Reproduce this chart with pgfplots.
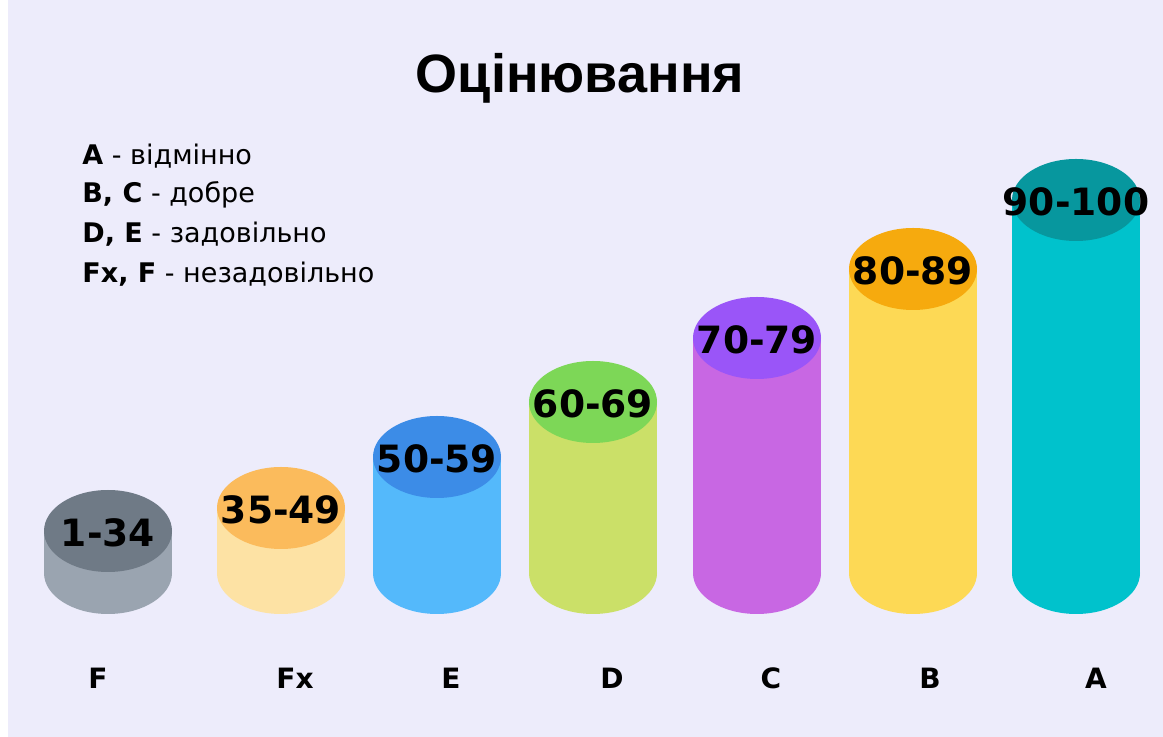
\documentclass[border=0pt]{standalone}
\usepackage{pgfplots}
\pgfplotsset{compat=1.18}
\usepackage{pgfplotstable}
\usepackage{fontspec}
\setmainfont{DejaVu Sans}
\newfontfamily\titlefont{Liberation Sans}

\definecolor{bgc}{HTML}{EDECFB}
\definecolor{Fb}{HTML}{9AA4B0}\definecolor{Ft}{HTML}{6F7A86}
\definecolor{Fxb}{HTML}{FDE2A4}\definecolor{Fxt}{HTML}{FBBB5C}
\definecolor{Eb}{HTML}{54B9FB}\definecolor{Et}{HTML}{3C8CE7}
\definecolor{Db}{HTML}{CBE068}\definecolor{Dt}{HTML}{7DD757}
\definecolor{Cb}{HTML}{C867E3}\definecolor{Ct}{HTML}{9A55F8}
\definecolor{Bb}{HTML}{FDD955}\definecolor{Bt}{HTML}{F6AA0E}
\definecolor{Ab}{HTML}{00C2CC}\definecolor{At}{HTML}{07979E}

\pgfdeclareplotmark{ellip}{%
  \pgfpathellipse{\pgfpointorigin}{\pgfqpoint{32bp}{0bp}}{\pgfqpoint{0bp}{20.5bp}}%
  \pgfusepath{fill}}

% x = centre of cylinder, y = height of top ellipse above the base
\pgfplotstableread{
x y lab
98 -105 F
295 -105 Fx
451 -105 E
612 -105 D
771 -105 C
930 -105 B
1096 -105 A
}\cats

\newcommand\cyl[5]{%
  \addplot[only marks, mark=ellip, mark options={fill=#3, draw=none}] coordinates {(#1,0)};
  \addplot[ybar, bar width=64bp, bar shift=0pt, fill=#3, draw=none] coordinates {(#1,#2)};
  \addplot[only marks, mark=ellip, mark options={fill=#4, draw=none},
    nodes near coords={#5},
    every node near coord/.style={anchor=center, yshift=-1bp, text=black,
      font=\bfseries\fontsize{18.8bp}{22bp}\selectfont}] coordinates {(#1,#2)};
}

\begin{document}
\begin{tikzpicture}
\begin{axis}[
  scale only axis, width=581.5bp, height=368.5bp,
  xmin=0, xmax=1163, ymin=-164, ymax=573,
  hide axis, clip=false,
]
\path (axis cs:0,-164) rectangle (axis cs:1163,573);
\fill[bgc] (axis cs:8,-164) rectangle (axis cs:1163,573);

\cyl{108}{42}{Fb}{Ft}{1-34}
\cyl{281}{65}{Fxb}{Fxt}{35-49}
\cyl{437}{116}{Eb}{Et}{50-59}
\cyl{593}{171}{Db}{Dt}{60-69}
\cyl{757}{235}{Cb}{Ct}{70-79}
\cyl{913}{304}{Bb}{Bt}{80-89}
\cyl{1076}{373}{Ab}{At}{90-100}

\addplot[draw=none, mark=none, nodes near coords, point meta=explicit symbolic,
  every node near coord/.style={anchor=center, text=black,
    font=\bfseries\fontsize{14bp}{17bp}\selectfont}]
  table[x=x, y=y, meta=lab] {\cats};

\node[anchor=base, font={\titlefont\bfseries\fontsize{27bp}{32bp}\selectfont}]
  at (axis cs:580,480) {Оцінювання};

\begin{scope}[every node/.style={anchor=base west, inner sep=0pt,
    font=\fontsize{13.5bp}{16bp}\selectfont}]
\node at (axis cs:82,408) {\textbf{A} - відмінно};
\node at (axis cs:82,370) {\textbf{B, C} - добре};
\node at (axis cs:82,330) {\textbf{D, E} - задовільно};
\node at (axis cs:82,290) {\textbf{Fx, F} - незадовільно};
\end{scope}
\end{axis}
\end{tikzpicture}
\end{document}
